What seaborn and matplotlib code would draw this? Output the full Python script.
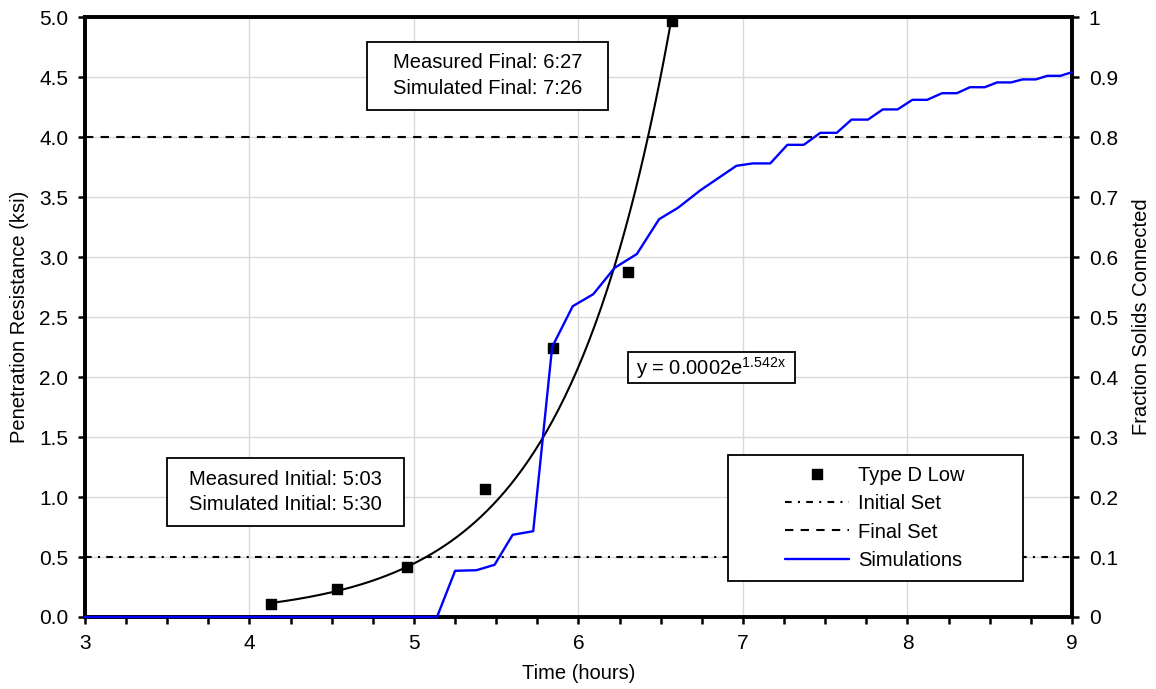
import numpy as np
import pandas as pd
import matplotlib.pyplot as plt
import seaborn as sns
from matplotlib.patches import Rectangle
from matplotlib.ticker import MultipleLocator

# measured penetration resistance (Type D Low)
meas_time = [4.13, 4.53, 4.96, 5.43, 5.845, 6.30, 6.566]
meas_pr = [0.11, 0.233, 0.415, 1.07, 2.24, 2.875, 4.97]

# simulated fraction of solids connected
sim_time = [3.0, 5.14, 5.25, 5.38, 5.49, 5.60, 5.725, 5.84, 5.965, 6.09, 6.22,
            6.355, 6.49, 6.605, 6.74, 6.96, 7.06, 7.166, 7.27, 7.37, 7.47, 7.57,
            7.66, 7.76, 7.85, 7.94, 8.03, 8.12, 8.21, 8.30, 8.38, 8.47, 8.545,
            8.63, 8.70, 8.78, 8.85, 8.93, 9.0]
sim_frac = [0, 0, 0.077, 0.078, 0.087, 0.137, 0.143, 0.45, 0.518, 0.538, 0.582,
            0.605, 0.663, 0.682, 0.711, 0.752, 0.756, 0.756, 0.787, 0.787, 0.807,
            0.807, 0.829, 0.829, 0.846, 0.846, 0.862, 0.862, 0.873, 0.873, 0.883,
            0.883, 0.891, 0.891, 0.896, 0.896, 0.902, 0.902, 0.908]

# trendline shown on the chart: y = a * exp(b * x)
fit_a = 0.0002
fit_b = 1.542

initial_set = 0.5
final_set = 4.0

right_ticks = [0, 0.1, 0.2, 0.3, 0.4, 0.5, 0.6, 0.7, 0.8, 0.9, 1.0]
right_labels = ["0", "0.1", "0.2", "0.3", "0.4", "0.5", "0.6", "0.7", "0.8", "0.9", "1"]


def main():
    sns.set_theme(style="white")
    plt.rcParams["font.family"] = ["Liberation Sans", "DejaVu Sans"]
    plt.rcParams["mathtext.default"] = "regular"
    for key in ("text.color", "axes.labelcolor", "xtick.color", "ytick.color"):
        plt.rcParams[key] = "black"
    fs = 14.5
    tfs = 15

    fig = plt.figure(figsize=(11.56, 6.89), dpi=100)
    ax = fig.add_axes([0.0735, 0.1045, 0.8538, 0.8708])
    ax2 = ax.twinx()

    # trendline through the measured points
    fit_x = np.linspace(meas_time[0], np.log(5.0 / fit_a) / fit_b, 200)
    fit_df = pd.DataFrame({"t": fit_x, "y": fit_a * np.exp(fit_b * fit_x)})
    sns.lineplot(data=fit_df, x="t", y="y", color="black", lw=1.5, ax=ax, zorder=3)

    sns.scatterplot(x=meas_time, y=meas_pr, marker="s", color="black", s=50,
                    edgecolor="black", linewidth=1, label="Type D Low", ax=ax, zorder=4)

    ax.axhline(initial_set, color="black", lw=1.5, dashes=(3.2, 3, 1, 3), label="Initial Set", zorder=2)
    ax.axhline(final_set, color="black", lw=1.5, dashes=(4, 3.5), label="Final Set", zorder=2)

    sns.lineplot(x=sim_time, y=sim_frac, color="#0000ff", lw=1.7, label="Simulations",
                 ax=ax2, zorder=4, clip_on=False)

    # axes, ticks and grid
    ax.set_xlim(3, 9)
    ax.set_ylim(0, 5)
    ax.xaxis.set_major_locator(MultipleLocator(1))
    ax.xaxis.set_minor_locator(MultipleLocator(0.25))
    ax.yaxis.set_major_locator(MultipleLocator(0.5))
    ax.set_yticklabels([f"{v:.1f}" for v in ax.get_yticks()])
    ax.grid(True, which="major", color="#d9d9d9", lw=1.0)
    ax.set_axisbelow(True)

    ax2.set_ylim(0, 1)
    ax2.set_yticks(right_ticks)
    ax2.set_yticklabels(right_labels)
    ax2.grid(False)

    for a in (ax, ax2):
        for sp in a.spines.values():
            sp.set_linewidth(2.6)
            sp.set_color("black")
    ax.tick_params(axis="x", which="both", bottom=True, direction="out", length=5,
                   width=1.8, color="black", labelsize=tfs, pad=7)
    ax.tick_params(axis="y", left=True, right=False, direction="out", length=5,
                   width=1.8, color="black", labelsize=tfs, pad=7)
    ax2.tick_params(axis="y", right=True, direction="out", length=5, width=1.8,
                    color="black", labelsize=tfs, pad=7)

    ax.set_xlabel("Time (hours)", fontsize=fs, labelpad=8)
    ax.set_ylabel("Penetration Resistance (ksi)", fontsize=fs, labelpad=7)
    ax2.set_ylabel("Fraction Solids Connected", fontsize=fs, labelpad=10)

    # text boxes
    boxes = [
        ((0.2854, 0.845, 0.2446, 0.114), "Measured Final: 6:27\nSimulated Final: 7:26"),
        ((0.0828, 0.1517, 0.2404, 0.1133), "Measured Initial: 5:03\nSimulated Initial: 5:30"),
        ((0.550, 0.3895, 0.1694, 0.0525), "y = 0.0002e$^{1.542x}$"),
    ]
    for (x0, y0, w, h), txt in boxes:
        ax2.add_patch(Rectangle((x0, y0), w, h, transform=ax2.transAxes, fc="white",
                                ec="black", lw=1.3, zorder=5))
        ax2.text(x0 + w / 2, y0 + h / 2, txt, transform=ax2.transAxes, ha="center",
                 va="center", fontsize=fs, linespacing=1.45, zorder=6)

    # legend
    for a in (ax, ax2):
        if a.get_legend() is not None:
            a.get_legend().remove()
    h1, l1 = ax.get_legend_handles_labels()
    h2, l2 = ax2.get_legend_handles_labels()
    ax2.add_patch(Rectangle((0.652, 0.0605), 0.298, 0.2095, transform=ax2.transAxes,
                            fc="white", ec="black", lw=1.3, zorder=5))
    leg = ax2.legend(h1 + h2, l1 + l2, loc="center left", bbox_to_anchor=(0.7092, 0.165),
                     frameon=False, fontsize=fs, handlelength=3.2, handletextpad=0.42,
                     labelspacing=0.45, borderpad=0, borderaxespad=0, scatterpoints=1,
                     scatteryoffsets=[0.5])
    leg.set_zorder(7)

    fig.savefig("out.png", dpi=100)
    plt.close(fig)


if __name__ == "__main__":
    main()
